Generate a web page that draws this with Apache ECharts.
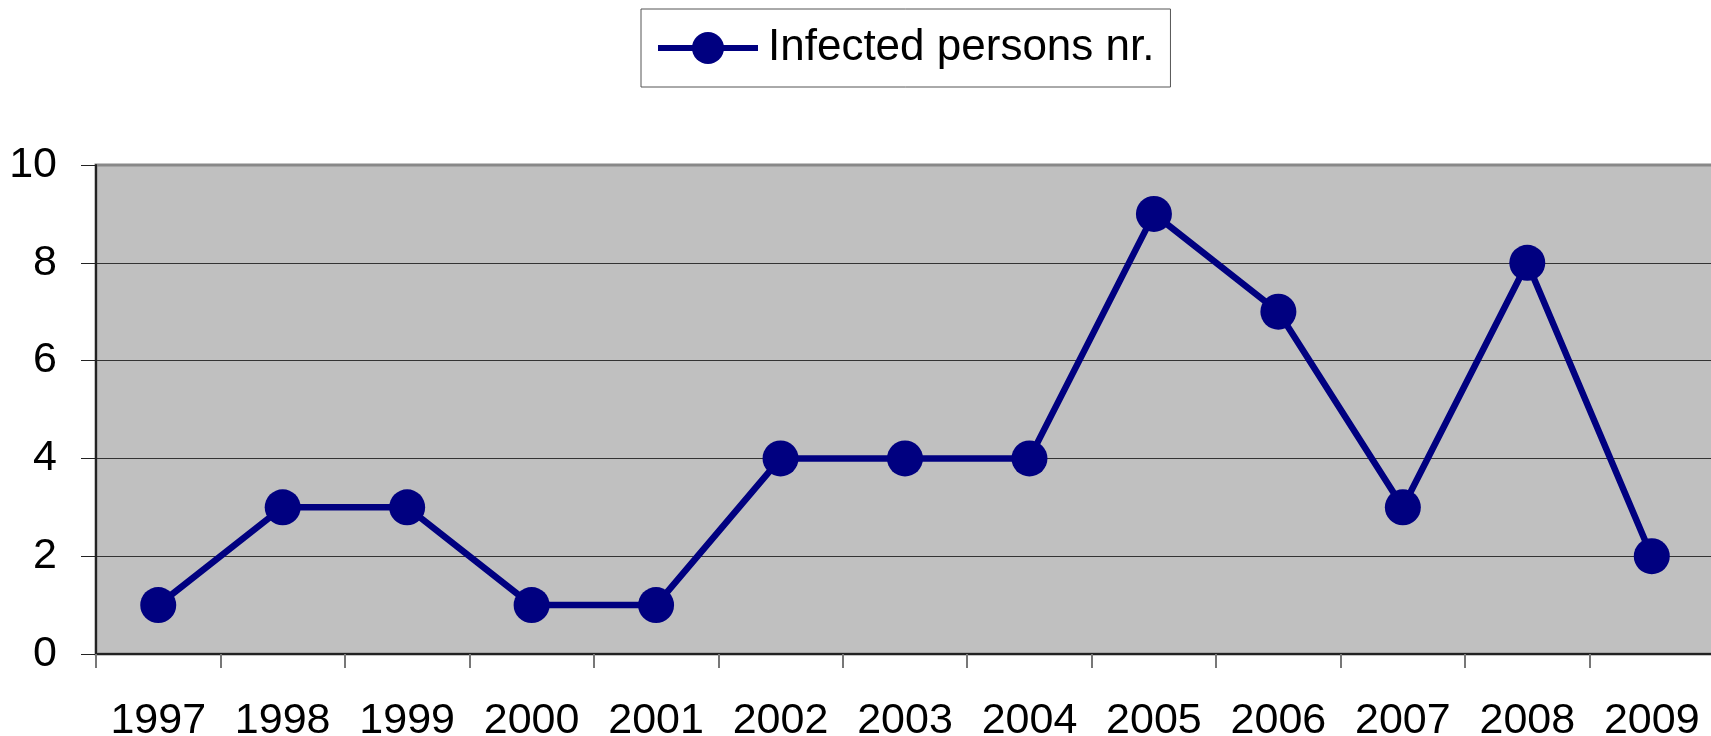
<!DOCTYPE html>
<html>
<head>
<meta charset="utf-8">
<script src="https://cdn.jsdelivr.net/npm/echarts@6/dist/echarts.min.js"></script>
<style>
html,body{margin:0;padding:0;background:#fff;}
#c{width:1711px;height:736px;}
</style>
</head>
<body>
<div id="c"></div>
<script>
const years = ['1997','1998','1999','2000','2001','2002','2003','2004','2005','2006','2007','2008','2009'];
const infected = [1, 3, 3, 1, 1, 4, 4, 4, 9, 7, 3, 8, 2];
const seriesName = 'Infected persons nr.';
const yMin = 0, yMax = 10, yStep = 2;

const chart = echarts.init(document.getElementById('c'), null, {renderer: 'canvas'});
const font = 'Liberation Sans, Arial, sans-serif';
chart.setOption({
  animation: false,
  backgroundColor: '#ffffff',
  textStyle: {fontFamily: font},
  legend: {
    show: true,
    left: 641,
    top: 9,
    padding: [17, 16, 17, 14],
    borderColor: '#555',
    borderWidth: 1,
    itemWidth: 100,
    itemHeight: 40,
    lineStyle: {width: 6},
    textStyle: {fontSize: 44, color: '#000', fontFamily: font, padding: [0, 0, 0, 5]},
    data: [seriesName]
  },
  grid: {
    left: 96,
    top: 165,
    bottom: 82,
    width: 1618,
    outerBoundsMode: 'none',
    containLabel: false,
    show: true,
    backgroundColor: '#c0c0c0',
    borderColor: '#888',
    borderWidth: 3
  },
  xAxis: {
    type: 'category',
    data: years,
    boundaryGap: true,
    axisLine: {show: true, lineStyle: {color: '#222', width: 2}},
    axisTick: {show: true, length: 14, interval: 0, alignWithLabel: false, lineStyle: {color: '#777', width: 2}},
    axisLabel: {fontSize: 43, color: '#000', margin: 46, interval: 0, hideOverlap: false, fontFamily: font},
    splitLine: {show: false}
  },
  yAxis: {
    type: 'value',
    min: yMin,
    max: yMax,
    interval: yStep,
    axisLine: {show: true, lineStyle: {color: '#222', width: 2}},
    axisTick: {show: true, length: 15, lineStyle: {color: '#222', width: 1}},
    axisLabel: {fontSize: 43, color: '#000', margin: 39, fontFamily: font, padding: [0, 0, 10, 0]},
    splitLine: {show: true, lineStyle: {color: ['#333','#333','#333','#333','#333','#888'], width: 1}}
  },
  series: [{
    name: seriesName,
    type: 'line',
    data: infected,
    symbol: 'circle',
    symbolSize: 36,
    lineStyle: {color: '#000080', width: 6.5},
    itemStyle: {color: '#000080'},
    z: 5
  }]
});
</script>
</body>
</html>
